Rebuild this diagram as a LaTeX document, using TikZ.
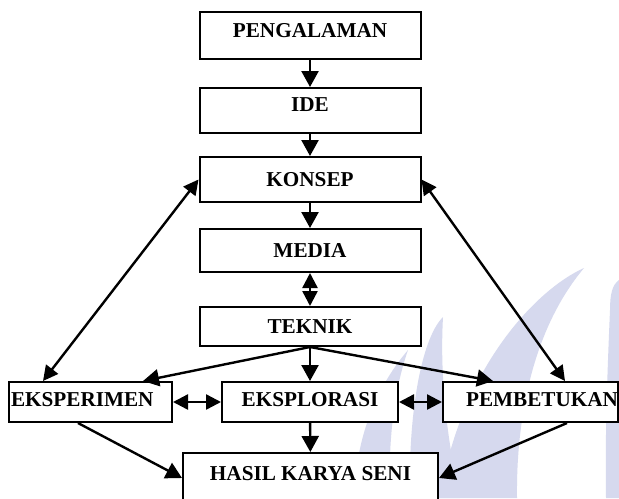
\documentclass[tikz,border=0pt]{standalone}
\usepackage{fontspec}
\setmainfont{Liberation Serif}
\usetikzlibrary{arrows.meta,calc}
\definecolor{wmlila}{RGB}{214,217,238}

\begin{document}
\begin{tikzpicture}[x=0.5pt,y=-0.5pt,
    kotak/.style={draw, line width=1pt, fill=white, inner sep=0pt,
        font=\fontsize{10.6}{12}\selectfont\bfseries},
    kolom/.style={kotak, minimum width=110.5pt},
    baris/.style={kotak, minimum height=20pt, text depth=2.5pt},
    panah/.style={line width=1.2pt, -{Triangle[length=8pt,width=8.5pt]}},
    panahdua/.style={line width=1.2pt,
        {Triangle[length=7.5pt,width=7.5pt]}-{Triangle[length=7.5pt,width=7.5pt]}}]

    % --- Rahmen ---
    \clip (0,0) rectangle (619,498);
    \fill[white] (0,0) rectangle (619,498);

    % --- Wasserzeichen im Hintergrund ---
    \fill[wmlila] (408,350) .. controls (374,390) and (356,440) .. (354,498)
        -- (390,498) .. controls (388,440) and (394,390) .. (408,350) -- cycle;
    \fill[wmlila] (443,317) .. controls (420,340) and (408,420) .. (410,498)
        -- (460,498) .. controls (445,430) and (440,370) .. (443,317) -- cycle;
    \fill[wmlila] (584,268) .. controls (535,290) and (460,370) .. (440,498)
        -- (517,498) .. controls (516,420) and (532,330) .. (584,268) -- cycle;
    \fill[wmlila] (619,280) .. controls (612,285) and (610,295) .. (610,310)
        .. controls (607,380) and (605,440) .. (606,498) -- (619,498) -- cycle;

    % --- Kotak utama ---
    \node[kolom, minimum height=23.5pt, text depth=5.5pt] (peng) at (310,35.5) {PENGALAMAN};
    \node[kolom, minimum height=22.5pt, text depth=5.5pt] (ide) at (310,110.5) {IDE};
    \node[kolom, minimum height=22.5pt] (konsep) at (310,179.5) {KONSEP};
    \node[kolom, minimum height=21.5pt] (media) at (310,250.5) {MEDIA};
    \node[kolom, minimum height=19.5pt] (teknik) at (310,326.5) {TEKNIK};

    % --- Baris tengah ---
    \node[baris, text width=79.5pt, inner xsep=1pt, align=left] (eksperimen) at (90.5,402) {EKSPERIMEN};
    \node[baris, minimum width=88pt] (eksplorasi) at (310,402) {EKSPLORASI};
    \node[baris, text width=87.5pt, align=right] (pembetukan) at (530.5,402) {PEMBETUKAN};

    % --- Hasil ---
    \node[kotak, minimum width=127.5pt, minimum height=25pt, text depth=5pt] (hasil) at (310.5,478) {HASIL KARYA SENI};

    % --- Panah vertikal ---
    \draw[panah] (peng) -- (ide);
    \draw[panah] (ide) -- (konsep);
    \draw[panah] (konsep) -- (media);
    \draw[panahdua] (media) -- (teknik);
    \draw[panah] (teknik.south) -- (eksplorasi.north);
    \draw[panah] (eksplorasi) -- (hasil);

    % --- Panah dari teknik ---
    \draw[panah] (teknik.south) -- ($(eksperimen.north)+(52.5,0)$);
    \draw[panah] (teknik.south) -- ($(pembetukan.north)+(-37.5,0)$);

    % --- Panah antar baris ---
    \draw[panahdua] (eksperimen.east) -- (eksplorasi.west);
    \draw[panahdua] (eksplorasi.east) -- (pembetukan.west);

    % --- Umpan balik ke konsep ---
    \draw[panahdua] (konsep.west) -- ($(eksperimen.north)+(-47.5,0)$);
    \draw[panahdua] (konsep.east) -- ($(pembetukan.north)+(34.5,0)$);

    % --- Menuju hasil ---
    \draw[panah] ($(eksperimen.south)+(-12.5,0)$) -- (hasil.west);
    \draw[panah] ($(pembetukan.south)+(36.5,0)$) -- (hasil.east);
\end{tikzpicture}
\end{document}
